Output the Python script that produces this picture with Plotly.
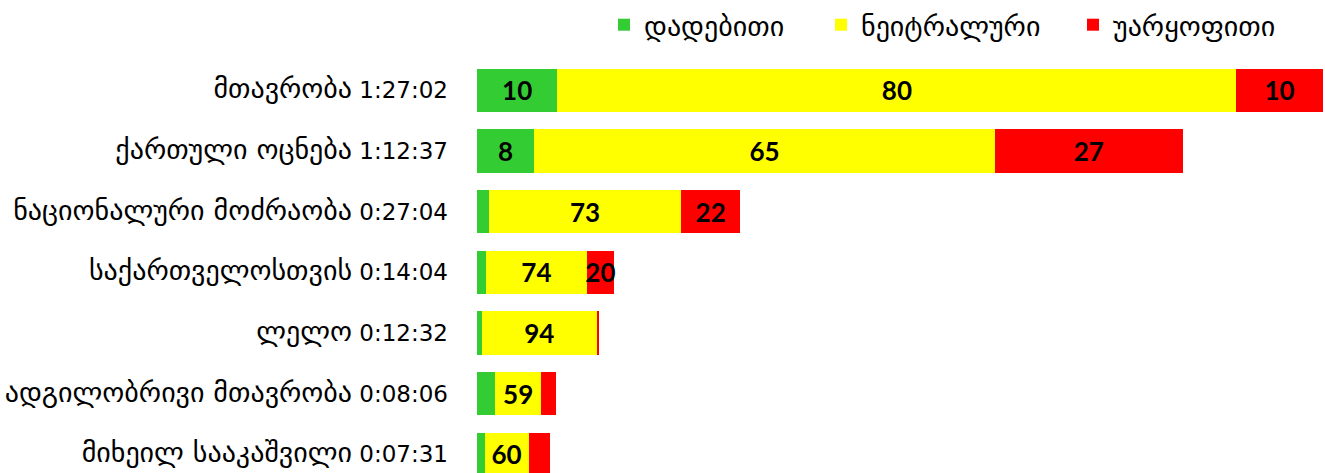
import plotly.graph_objects as go

categories = [
    "მთავრობა 1:27:02",
    "ქართული ოცნება 1:12:37",
    "ნაციონალური მოძრაობა 0:27:04",
    "საქართველოსთვის 0:14:04",
    "ლელო 0:12:32",
    "ადგილობრივი მთავრობა 0:08:06",
    "მიხეილ სააკაშვილი 0:07:31",
]

positive_pct = [9.5, 8.1, 4.4, 6.4, 3.9, 22.7, 10.3]
neutral_pct = [80.3, 65.3, 73.3, 74.1, 94.4, 59.2, 60.4]
negative_pct = [10.2, 26.6, 22.3, 19.6, 1.7, 18.1, 29.3]

positive_show = [True, True, False, False, False, False, False]
neutral_show = [True, True, True, True, True, True, True]
negative_show = [True, True, True, True, False, False, False]

series_names = ["დადებითი", "ნეიტრალური", "უარყოფითი"]
colors = ["#33CC33", "#FFFF00", "#FF0000"]


def to_seconds(s):
    h, m, sec = (int(p) for p in s.split(":"))
    return h * 3600 + m * 60 + sec


names = [c.rsplit(" ", 1)[0] for c in categories]
durations = [c.rsplit(" ", 1)[1] for c in categories]
secs = [to_seconds(d) for d in durations]
tick_text = [f'<span style="font-size:28px">{n}</span> {d}' for n, d in zip(names, durations)]

fig = go.Figure()
series = [(positive_pct, positive_show), (neutral_pct, neutral_show), (negative_pct, negative_show)]
legend_ids = ["legend", "legend2", "legend3"]
for i, ((pcts, show), name, col) in enumerate(zip(series, series_names, colors)):
    fig.add_trace(go.Bar(
        y=categories,
        x=[p / 100 * s for p, s in zip(pcts, secs)],
        orientation="h",
        name=name,
        marker=dict(color=col, line=dict(width=0)),
        text=[f"{round(p)}" if sh else "" for p, sh in zip(pcts, show)],
        textposition="inside",
        insidetextanchor="middle",
        constraintext="none",
        textangle=0,
        textfont=dict(family="Lato, DejaVu Sans", size=26, color="black", weight="bold"),
        legend=legend_ids[i],
        showlegend=True,
        hoverinfo="skip",
    ))

legend_common = dict(
    orientation="h", xref="container", yref="container", yanchor="middle", xanchor="left",
    y=1 - 25 / 473, font=dict(family="DejaVu Sans", size=28, color="black"),
    bgcolor="rgba(0,0,0,0)", borderwidth=0,
)
fig.update_layout(
    barmode="stack",
    bargap=0.285,
    width=1325,
    height=473,
    showlegend=True,
    margin=dict(l=477, r=0, t=60, b=0, pad=0),
    plot_bgcolor="white",
    paper_bgcolor="white",
    font=dict(family="DejaVu Sans", size=23, color="black"),
    legend=dict(**legend_common, x=604 / 1325),
    legend2=dict(**legend_common, x=821 / 1325),
    legend3=dict(**legend_common, x=1073 / 1325),
    xaxis=dict(range=[0, 5236], visible=False, showgrid=False, zeroline=False, fixedrange=True),
    yaxis=dict(
        type="category",
        range=[6.306, -0.5],
        tickmode="array",
        tickvals=categories,
        ticktext=tick_text,
        showgrid=False, zeroline=False, showline=False, ticks="",
        ticklabelstandoff=28,
        tickfont=dict(family="DejaVu Sans", size=23, color="black"),
        automargin=False,
        fixedrange=True,
    ),
)

fig.write_html(
    "out.html",
    config={"displayModeBar": False},
    post_script="document.body.style.margin='0';document.body.style.overflow='hidden';",
)
